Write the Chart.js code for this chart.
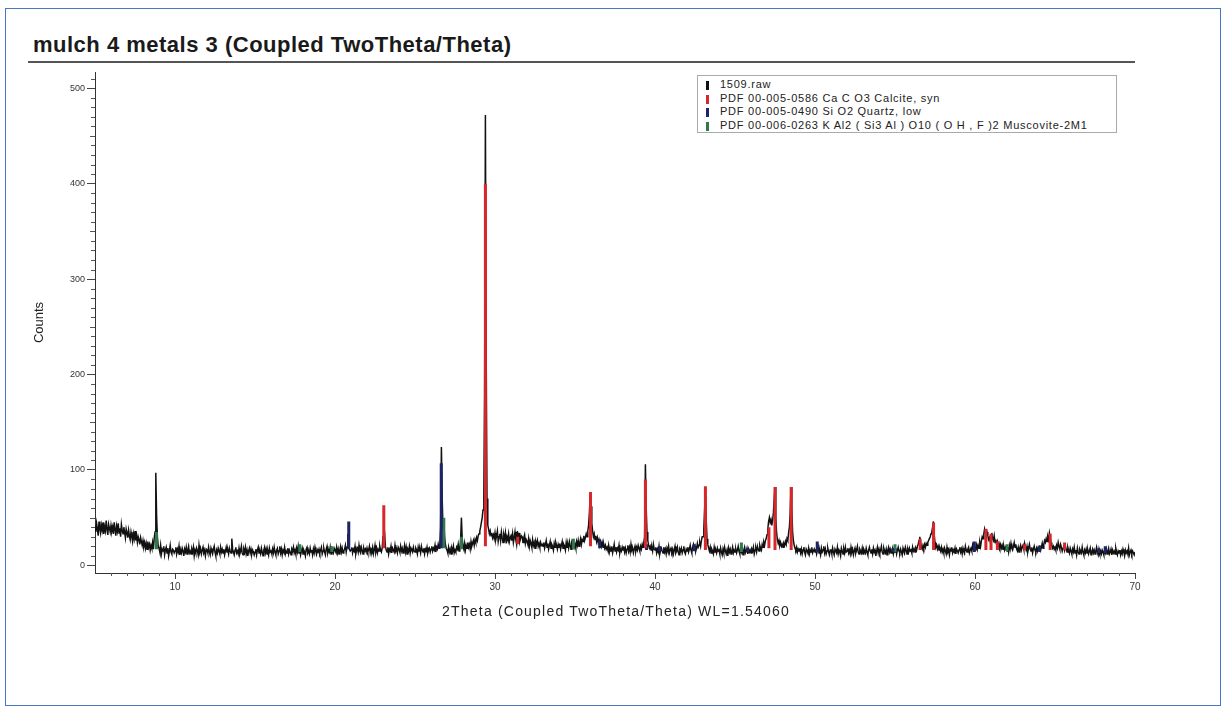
<!DOCTYPE html>
<html>
<head>
<meta charset="utf-8">
<title>mulch 4 metals 3 (Coupled TwoTheta/Theta)</title>
<script src="https://cdn.jsdelivr.net/npm/chart.js@4/dist/chart.umd.min.js"></script>
<style>
  html, body { margin: 0; padding: 0; background: #fff; }
  body { width: 1223px; height: 709px; position: relative; overflow: hidden; font-family: Arial, "Liberation Sans", sans-serif; }
  #frame { position: absolute; left: 5px; top: 8px; width: 1216px; height: 698px; border: 1.5px solid #4a76c6; box-sizing: border-box; }
  #title { position: absolute; left: 33px; top: 32px; font-size: 22px; letter-spacing: 0.5px; font-weight: bold; color: #1a1a1a; white-space: nowrap; }
  #rule { position: absolute; left: 28px; top: 61px; width: 1107px; height: 2px; background: #555; }
  #wrap { position: absolute; left: 0; top: 0; width: 1223px; height: 709px; }
  #xtitle { position: absolute; left: 416px; width: 400px; top: 603px; text-align: center; font-size: 14px; letter-spacing: 1.2px; color: #222; white-space: nowrap; }
  #legend { position: absolute; left: 697px; top: 75px; width: 420px; height: 58px; border: 1px solid #aaa; box-sizing: border-box; background: #fff; padding-top: 2px; }
  .row { height: 13.5px; line-height: 13.5px; font-size: 11px; letter-spacing: 0.75px; color: #222; white-space: nowrap; position: relative; padding-left: 22px; }
  .row i { position: absolute; left: 8px; top: 3px; width: 3px; height: 9px; }
</style>
</head>
<body>
<div id="frame"></div>
<div id="title">mulch 4 metals 3 (Coupled TwoTheta/Theta)</div>
<div id="rule"></div>
<div id="wrap"><canvas id="xrd" width="1223" height="709"></canvas></div>
<div id="xtitle">2Theta (Coupled TwoTheta/Theta) WL=1.54060</div>
<div id="legend"></div>
<script>
// Scan settings of the measured pattern
const twoThetaStart = 5.0;
const twoThetaStep = 0.05;

// Measured counts, 5.00° to 70.00° 2θ, one row per degree
const counts = [
  41,35,44,38,31,46,39,34,42,37,45,33,40,36,47,38,32,43,39,35,
  42,36,40,33,45,38,31,41,36,44,34,39,30,43,37,33,40,35,29,38,
  34,29,37,31,27,35,30,25,33,28,36,26,31,24,30,27,22,29,25,21,
  26,20,24,18,23,17,25,19,22,16,21,18,24,17,28,35,97,52,30,20,
  18,14,21,12,17,15,20,11,16,19,13,18,10,15,21,14,12,17,16,13,
  15,19,12,17,14,20,11,16,13,18,15,10,17,14,19,12,16,20,13,15,
  12,17,14,19,10,16,13,18,15,11,21,14,17,12,16,19,13,15,10,17,
  16,13,19,14,11,18,15,12,17,20,14,10,16,13,18,15,12,19,14,17,
  13,17,11,15,19,14,16,12,18,15,13,28,17,14,11,16,19,13,15,12,
  18,12,15,20,13,11,17,14,19,12,16,10,15,18,13,17,12,16,14,11,
  14,17,11,16,19,13,15,12,18,14,10,16,19,13,17,12,15,11,18,14,
  15,12,17,13,19,14,11,16,18,12,15,20,13,17,11,16,14,19,12,15,
  13,18,12,16,14,11,17,15,19,13,16,12,18,14,20,13,17,11,15,18,
  12,16,14,10,17,19,13,15,12,18,14,16,11,17,13,19,15,12,16,14,
  17,13,16,19,12,15,18,14,11,17,20,13,16,14,19,12,17,15,13,18,
  16,14,19,13,17,12,16,20,14,18,13,15,17,21,14,19,33,24,17,15,
  16,19,13,17,15,20,12,16,18,14,21,15,13,19,16,12,18,15,17,14,
  18,14,16,20,13,17,15,19,12,16,21,14,18,13,17,15,20,16,14,18,
  30,42,34,20,16,14,19,12,17,15,20,13,18,16,14,21,15,17,13,19,
  17,14,20,15,18,13,16,21,14,19,12,17,15,20,13,18,16,14,19,15,
  14,18,16,12,19,15,17,13,20,16,14,18,12,17,15,19,13,16,18,14,
  17,20,15,18,16,21,14,19,17,22,18,21,40,124,70,38,45,30,22,18,
  16,13,19,14,17,12,18,15,20,13,16,14,19,17,22,15,18,26,50,28,
  20,17,23,16,21,18,24,19,22,17,25,20,23,26,21,27,24,29,26,31,
  33,36,40,45,50,58,70,180,472,220,70,42,38,33,36,31,34,29,32,28,
  34,27,31,36,25,30,33,26,35,29,24,32,28,34,23,30,27,33,25,29,
  31,26,33,24,29,35,27,22,36,26,34,25,28,31,30,24,29,32,23,27,
  25,22,28,20,26,23,19,27,21,24,18,25,22,26,20,23,19,24,21,22,
  20,24,18,22,26,19,23,17,21,25,18,22,20,16,23,19,24,21,17,22,
  19,23,17,21,25,18,22,20,16,24,19,22,18,25,21,17,23,20,24,19,
  22,18,25,21,26,20,24,28,22,27,25,31,26,29,33,30,36,42,55,75,
  62,44,36,30,33,27,31,25,29,24,27,22,25,20,24,19,22,18,21,17,
  19,16,21,14,18,15,20,13,17,22,15,19,14,18,16,21,13,17,15,19,
  16,20,14,18,13,17,21,15,19,14,22,16,18,13,17,20,15,19,16,21,
  18,15,20,17,22,19,24,30,106,60,35,26,21,18,20,16,19,15,22,17,
  16,19,13,17,14,20,12,16,18,15,13,19,14,17,12,18,15,20,13,16,
  18,14,17,12,16,20,13,15,19,14,11,17,15,18,13,16,20,14,12,17,
  15,19,14,17,21,16,13,19,22,17,20,15,18,23,19,21,24,20,26,30,
  30,38,58,80,48,28,22,18,15,19,13,17,15,12,19,14,16,13,18,15,
  16,12,18,14,11,17,13,19,15,12,16,10,18,14,17,12,15,19,13,16,
  14,17,13,16,20,15,12,18,14,17,11,16,19,13,15,18,12,17,14,16,
  13,17,15,19,12,16,18,14,20,17,15,21,18,16,22,19,24,21,26,28,
  32,38,46,50,45,48,42,47,55,70,82,50,34,27,23,26,21,24,20,22,
  19,23,21,25,22,28,26,34,40,55,82,60,35,26,21,18,16,19,14,17,
  15,18,13,17,12,16,19,14,11,17,15,13,18,12,16,14,19,13,15,17,
  14,17,12,16,19,13,15,11,18,14,16,20,13,17,12,15,18,14,11,16,
  16,12,18,14,11,17,15,13,19,12,16,14,10,18,15,12,17,13,19,14,
  15,18,13,16,12,19,14,17,11,15,18,13,16,20,14,12,17,15,13,18,
  12,17,15,13,18,14,11,16,19,15,13,17,12,18,14,16,10,15,19,13,
  17,13,16,20,14,12,18,15,13,17,11,16,19,14,17,13,15,18,12,16,
  14,18,12,16,19,15,13,17,14,11,18,15,13,19,16,12,17,14,18,15,
  16,13,19,15,17,14,18,16,20,22,26,30,24,19,17,21,18,22,19,23,
  21,24,26,28,30,33,35,40,46,32,24,19,21,17,20,16,18,15,19,14,
  17,13,18,15,12,19,14,16,11,17,15,19,13,16,14,18,12,17,15,13,
  16,19,14,17,12,18,15,13,20,16,14,17,19,13,16,18,15,21,17,20,
  16,19,22,17,21,18,24,20,26,30,28,33,38,34,30,35,31,27,29,25,
  30,34,28,26,31,24,27,22,25,20,23,19,22,18,21,17,20,16,19,17,
  15,19,14,21,17,23,18,16,20,24,19,22,17,15,19,14,18,21,16,19,
  21,17,23,19,16,20,14,18,22,17,15,19,13,17,20,16,14,18,15,19,
  17,21,16,19,23,18,22,26,24,28,25,30,27,34,29,24,21,18,20,17,
  19,16,21,18,24,20,17,22,19,15,18,21,16,20,17,14,19,16,13,18,
  15,12,17,14,19,13,16,11,18,14,12,17,15,13,19,14,11,16,13,17,
  13,16,12,15,18,11,14,17,13,16,12,15,19,14,11,17,13,15,12,16,
  14,11,16,13,17,12,15,18,12,14,17,11,16,13,15,12,18,14,11,15,
  13,16,11,15,12,17,14,10,16,13,15,12,18,11,14,16,12,15,13,11,
  14
];

// Reference sticks: position (2θ), top and bottom (counts)
const calcitePos  = [23.05, 29.40, 31.42, 35.97, 39.40, 43.15, 47.12, 47.50, 48.51, 56.57, 57.41, 60.68, 61.00, 61.40, 63.10, 64.70, 65.60];
const calciteTop  = [63, 400, 30, 77, 90, 83, 40, 82, 82, 28, 45, 38, 33, 25, 22, 33, 24];
const calciteBase = [18, 20, 22, 20, 18, 16, 18, 16, 16, 16, 16, 16, 16, 16, 16, 16, 16];

const quartzPos  = [20.86, 26.64, 36.54, 39.47, 40.30, 42.45, 45.80, 50.14, 54.87, 59.96, 64.04, 67.74, 68.14];
const quartzTop  = [46, 107, 26, 22, 20, 22, 18, 25, 18, 25, 20, 18, 20];
const quartzBase = [17, 18, 18, 16, 15, 15, 14, 14, 14, 14, 14, 13, 13];

const muscovitePos  = [8.84, 17.80, 19.80, 26.80, 27.90, 34.90, 45.40, 55.00, 62.00];
const muscoviteTop  = [35, 22, 20, 50, 30, 28, 24, 22, 22];
const muscoviteBase = [17, 14, 14, 18, 17, 17, 14, 14, 15];

// Axis ticks
const xTicks = [10, 20, 30, 40, 50, 60, 70];
const yTicks = [0, 100, 200, 300, 400, 500];

// Legend entries
const legendLabels = [
  '1509.raw',
  'PDF 00-005-0586 Ca C O3 Calcite, syn',
  'PDF 00-005-0490 Si O2 Quartz, low',
  'PDF 00-006-0263 K Al2 ( Si3 Al ) O10 ( O H , F )2 Muscovite-2M1'
];
const legendColors = ['#111111', '#d8262b', '#1d2466', '#2f7a4d'];

// Build plotting structures
const rawPoints = counts.map((c, i) => ({ x: +(twoThetaStart + i * twoThetaStep).toFixed(2), y: c }));
function sticks(pos, top, base) {
  const pts = [];
  pos.forEach((p, i) => {
    pts.push({ x: p, y: base[i] });
    pts.push({ x: p, y: top[i] });
    pts.push({ x: p, y: null });
  });
  return pts;
}

const stickStyle = { pointRadius: 0, borderWidth: 3, spanGaps: false, tension: 0, borderCapStyle: 'butt' };

// Legend
const legendEl = document.getElementById('legend');
legendLabels.forEach((t, i) => {
  const r = document.createElement('div');
  r.className = 'row';
  r.innerHTML = '<i style="background:' + legendColors[i] + '"></i>';
  r.appendChild(document.createTextNode(t));
  legendEl.appendChild(r);
});

// Small minor ticks along both axes
const minorTicks = {
  id: 'minorTicks',
  afterDraw(chart) {
    const ctx = chart.ctx;
    const xs = chart.scales.x, ys = chart.scales.y;
    ctx.save();
    ctx.strokeStyle = '#555';
    ctx.lineWidth = 1;
    ctx.beginPath();
    for (let v = 6; v < 70; v++) {
      if (v % 10 === 0) continue;
      const px = Math.round(xs.getPixelForValue(v)) + 0.5;
      const len = v % 5 === 0 ? 4 : 3;
      ctx.moveTo(px, xs.top);
      ctx.lineTo(px, xs.top + len);
    }
    for (let v = 10; v < 517; v += 10) {
      if (v % 100 === 0) continue;
      const py = Math.round(ys.getPixelForValue(v)) + 0.5;
      const len = v % 50 === 0 ? 5 : 4;
      ctx.moveTo(ys.right, py);
      ctx.lineTo(ys.right - len, py);
    }
    ctx.stroke();
    ctx.restore();
  }
};

new Chart(document.getElementById('xrd'), {
  type: 'line',
  data: {
    datasets: [
      Object.assign({ label: legendLabels[1], data: sticks(calcitePos, calciteTop, calciteBase), borderColor: legendColors[1], order: 1 }, stickStyle),
      Object.assign({ label: legendLabels[2], data: sticks(quartzPos, quartzTop, quartzBase), borderColor: legendColors[2], order: 2 }, stickStyle),
      Object.assign({ label: legendLabels[3], data: sticks(muscovitePos, muscoviteTop, muscoviteBase), borderColor: legendColors[3], order: 3 }, stickStyle),
      { label: legendLabels[0], data: rawPoints, borderColor: legendColors[0], borderWidth: 1.5, pointRadius: 0, tension: 0, order: 4 }
    ]
  },
  options: {
    responsive: false,
    animation: false,
    layout: { padding: { left: 0, top: 72, right: 88, bottom: 76 } },
    plugins: { legend: { display: false }, tooltip: { enabled: false }, title: { display: false } },
    scales: {
      x: {
        type: 'linear', min: 5, max: 70,
        afterFit: s => { s.height = 60; },
        afterBuildTicks: s => { s.ticks = xTicks.map(v => ({ value: v })); },
        grid: { drawOnChartArea: false, drawTicks: true, tickLength: 6, color: '#444' },
        border: { display: true, color: '#333', width: 1 },
        ticks: { color: '#333', font: { family: 'Arial', size: 10 }, padding: 2, maxRotation: 0, autoSkip: false }
      },
      y: {
        type: 'linear', min: -8, max: 517,
        afterFit: s => { s.width = 95; },
        afterBuildTicks: s => { s.ticks = yTicks.map(v => ({ value: v })); },
        grid: { drawOnChartArea: false, drawTicks: true, tickLength: 8, color: '#444' },
        border: { display: true, color: '#333', width: 1 },
        ticks: { color: '#333', font: { family: 'Arial', size: 9 }, padding: 2, autoSkip: false },
        title: { display: true, text: 'Counts', color: '#222', font: { family: 'Arial', size: 13 }, padding: { top: 32 } }
      }
    }
  },
  plugins: [minorTicks]
});
</script>
</body>
</html>
